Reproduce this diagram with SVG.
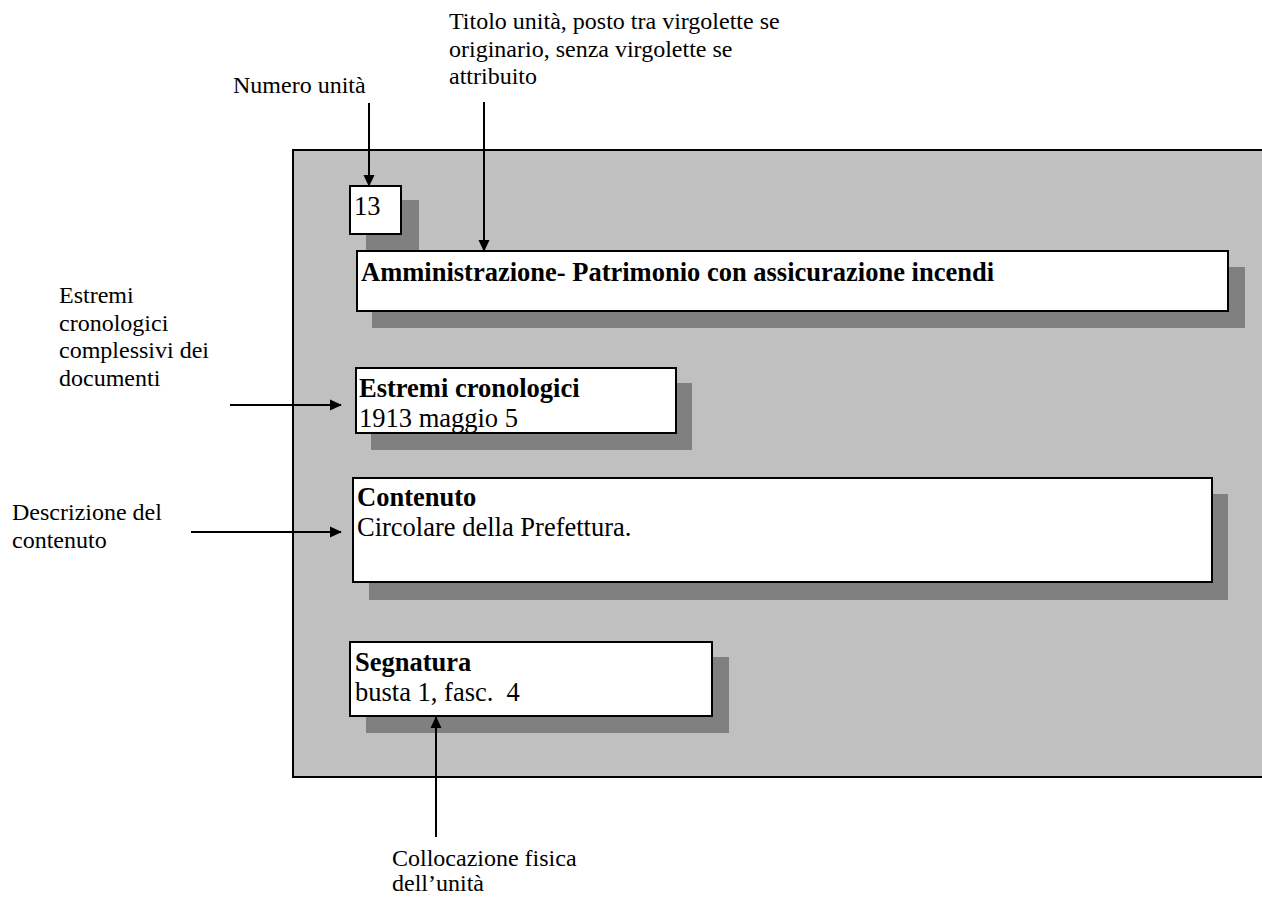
<svg xmlns="http://www.w3.org/2000/svg" width="1262" height="898" viewBox="0 0 1262 898">
<defs>
<style>
.lbl{font-family:"Liberation Serif","Times New Roman",serif;font-size:24px;fill:#000}
.bx{font-family:"Liberation Serif","Times New Roman",serif;font-size:26.5px;fill:#000}
.b{font-weight:bold}
.box{fill:#fff;stroke:#000;stroke-width:2}
.sh{fill:#808080}
.ln{stroke:#000;stroke-width:2;fill:none}
</style>
<marker id="ah" markerWidth="12" markerHeight="14" refX="13" refY="6.5" orient="auto" markerUnits="userSpaceOnUse" viewBox="0 0 14 13">
<path d="M0,0 L14,6.5 L0,13 Z" fill="#000"/>
</marker>
</defs>
<rect width="1262" height="898" fill="#fff"/>
<g id="frame">
<rect x="293" y="150" width="980" height="627" fill="#c0c0c0" stroke="#000" stroke-width="2"/>
</g>
<g id="node-numero">
<rect class="sh" x="366" y="200" width="53" height="52"/>
<rect class="box" x="350" y="186" width="51" height="48"/>
<text class="bx" x="354" y="215">13</text>
</g>
<g id="node-titolo">
<rect class="sh" x="372" y="267" width="873" height="61"/>
<rect class="box" x="357" y="251" width="871" height="60"/>
<text class="bx b" x="361" y="281">Amministrazione- Patrimonio con assicurazione incendi</text>
</g>
<g id="node-estremi">
<rect class="sh" x="371" y="383" width="321" height="67"/>
<rect class="box" x="356" y="368" width="320" height="65"/>
<text class="bx"><tspan class="b" x="359" y="397">Estremi cronologici</tspan><tspan x="359" y="427">1913 maggio 5</tspan></text>
</g>
<g id="node-contenuto">
<rect class="sh" x="369" y="494" width="859" height="106"/>
<rect class="box" x="353" y="478" width="859" height="104"/>
<text class="bx"><tspan class="b" x="357" y="506">Contenuto</tspan><tspan x="357" y="536">Circolare della Prefettura.</tspan></text>
</g>
<g id="node-segnatura">
<rect class="sh" x="366" y="657" width="363" height="76"/>
<rect class="box" x="350" y="642" width="362" height="74"/>
<text class="bx" xml:space="preserve"><tspan class="b" x="355" y="671">Segnatura</tspan><tspan x="355" y="701">busta 1, fasc.  4</tspan></text>
</g>
<g id="labels">
<text class="lbl" x="233" y="93">Numero unità</text>
<text class="lbl"><tspan x="449" y="29">Titolo unità, posto tra virgolette se</tspan><tspan x="449" y="56.5">originario, senza virgolette se</tspan><tspan x="449" y="84">attribuito</tspan></text>
<text class="lbl"><tspan x="59" y="303">Estremi</tspan><tspan x="59" y="330.5">cronologici</tspan><tspan x="59" y="358">complessivi dei</tspan><tspan x="59" y="385.5">documenti</tspan></text>
<text class="lbl"><tspan x="12" y="520">Descrizione del</tspan><tspan x="12" y="547.5">contenuto</tspan></text>
<text class="lbl"><tspan x="392" y="866">Collocazione fisica</tspan><tspan x="392" y="891">dell’unità</tspan></text>
</g>
<g id="connectors">
<line class="ln" x1="369" y1="103" x2="369" y2="186" marker-end="url(#ah)"/>
<line class="ln" x1="484" y1="102" x2="484" y2="251" marker-end="url(#ah)"/>
<line class="ln" x1="230" y1="405" x2="341" y2="405" marker-end="url(#ah)"/>
<line class="ln" x1="191" y1="532" x2="341" y2="532" marker-end="url(#ah)"/>
<line class="ln" x1="436" y1="837" x2="436" y2="717" marker-end="url(#ah)"/>
</g>
</svg>
